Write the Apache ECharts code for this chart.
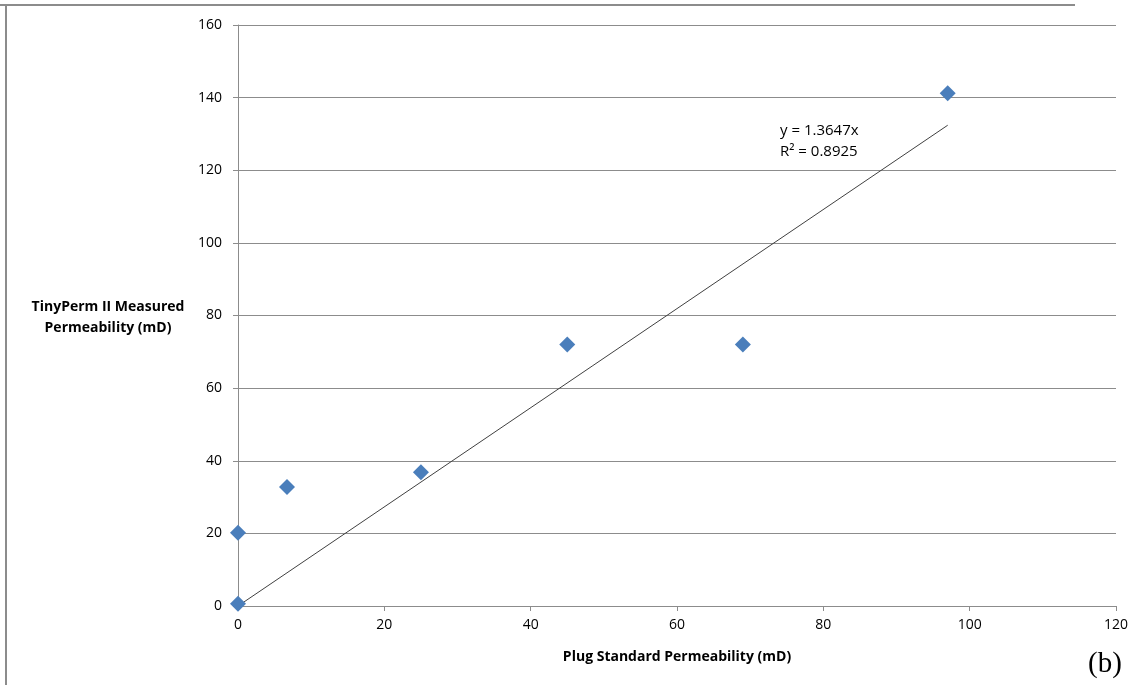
<!DOCTYPE html>
<html>
<head>
<meta charset="utf-8">
<script src="https://cdn.jsdelivr.net/npm/echarts@6/dist/echarts.min.js"></script>
<style>
  html, body { margin: 0; padding: 0; background: #fff; }
  #chart { width: 1146px; height: 685px; }
</style>
</head>
<body>
<div id="chart"></div>
<script>
// plug vs tinyperm readings
var plugPerm = [0, 0, 6.7, 25, 45, 69, 97];
var tinyPerm = [0.6, 20.2, 32.8, 36.8, 72, 72, 141.2];
// linear trend through origin (y = 1.3647x), endpoints
var trendX = [0, 97];
var trendY = [0, 132.4];
var xTicks = [0, 20, 40, 60, 80, 100, 120];
var yTicks = [0, 20, 40, 60, 80, 100, 120, 140, 160];

var pts = [];
for (var i = 0; i < plugPerm.length; i++) {
    pts.push([plugPerm[i], tinyPerm[i]]);
}
var trend = [];
for (var j = 0; j < trendX.length; j++) {
    trend.push([trendX[j], trendY[j]]);
}

var font = '"Open Sans", "Liberation Sans", sans-serif';
var chart = echarts.init(document.getElementById('chart'));
var option = {
    backgroundColor: '#fff',
    animation: false,
    grid: {
        left: 238,
        right: 30,
        top: 25,
        bottom: 79
    },
    xAxis: {
        type: 'value',
        min: xTicks[0],
        max: xTicks[xTicks.length - 1],
        interval: 20,
        name: 'Plug Standard Permeability (mD)',
        nameLocation: 'middle',
        nameGap: 44,
        nameTextStyle: { fontFamily: font, fontWeight: 'bold', fontSize: 14, color: '#000' },
        axisLine: { lineStyle: { color: '#8c8c8c', width: 1 } },
        axisTick: { show: true, length: 5, lineStyle: { color: '#8c8c8c' } },
        axisLabel: { fontFamily: font, fontSize: 14, color: '#000', margin: 12 },
        splitLine: { show: false }
    },
    yAxis: {
        type: 'value',
        min: yTicks[0],
        max: yTicks[yTicks.length - 1],
        interval: 20,
        axisLine: { show: true, lineStyle: { color: '#8c8c8c', width: 1 } },
        axisTick: { show: true, length: 5, lineStyle: { color: '#8c8c8c' } },
        axisLabel: { fontFamily: font, fontSize: 14, color: '#000', margin: 16 },
        splitLine: { show: true, lineStyle: { color: '#8c8c8c', width: 1 } }
    },
    series: [{
        name: 'trend',
        type: 'line',
        data: trend,
        symbol: 'none',
        lineStyle: { color: '#404040', width: 1 },
        z: 2
    }, {
        name: 'TinyPerm',
        type: 'scatter',
        data: pts,
        symbol: 'diamond',
        symbolSize: 16,
        itemStyle: { color: '#4a7ebb', opacity: 1 },
        z: 3
    }],
    graphic: [{
        type: 'line',
        shape: { x1: 0, y1: 5, x2: 1075, y2: 5 },
        style: { stroke: '#8c8c8c', lineWidth: 2 }
    }, {
        type: 'line',
        shape: { x1: 6, y1: 4, x2: 6, y2: 685 },
        style: { stroke: '#8c8c8c', lineWidth: 2 }
    }, {
        type: 'text',
        x: 108,
        y: 297,
        style: {
            text: 'TinyPerm II Measured\nPermeability (mD)',
            align: 'center',
            font: 'bold 14px ' + font,
            fill: '#000',
            lineHeight: 21
        }
    }, {
        type: 'text',
        x: 780,
        y: 120,
        style: {
            text: 'y = 1.3647x\nR² = 0.8925',
            font: '15px ' + font,
            fill: '#000',
            lineHeight: 21
        }
    }, {
        type: 'text',
        x: 1088,
        y: 650,
        style: {
            text: '(b)',
            font: '29px "Liberation Serif", "DejaVu Serif", serif',
            fill: '#000'
        }
    }]
};
chart.setOption(option);
</script>
</body>
</html>
